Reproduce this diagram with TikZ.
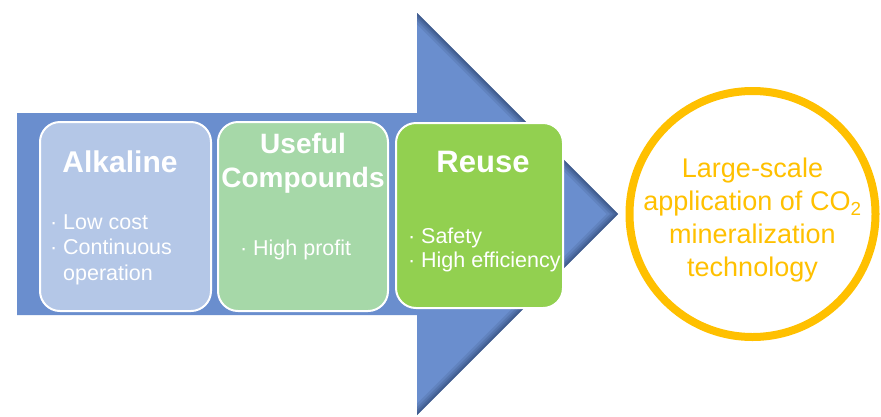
\documentclass[tikz,border=0pt]{standalone}
\usepackage{fontspec}
\setmainfont{Liberation Sans}
\usetikzlibrary{positioning}
\definecolor{arrowblue}{HTML}{6A8ECE}
\definecolor{arrowdark}{HTML}{2E4670}
\definecolor{boxblue}{HTML}{B4C7E7}
\definecolor{boxgreen}{HTML}{A6D8A8}
\definecolor{boxlime}{HTML}{92D050}
\definecolor{goalyellow}{HTML}{FFC000}
\newcommand{\itm}[1]{\makebox[13pt][l]{·}#1}
\begin{document}
\begin{tikzpicture}
[x=1pt,y=-1pt,
  stepbox/.style={shape=rectangle,rounded corners=20pt,draw=white,line width=2pt,inner sep=0pt},%
  titletext/.style={anchor=base,inner sep=0pt,text=white,font=\fontsize{30}{34}\selectfont\bfseries},%
  itemtext/.style={anchor=base west,inner sep=0pt,text=white,font=\fontsize{21.5}{25}\selectfont},%
  goaldecorate/.style={shape=circle,draw=goalyellow,line width=8pt,minimum size=246pt,inner sep=0pt}]
\useasboundingbox (0,0) rectangle (881,416);
% big arrow
\path[fill=arrowblue] (17,113) -- (417,113) -- (417,13) -- (618,214) -- (417,415) -- (417,315) -- (17,315) -- cycle;
\begin{scope}
\clip (417,13) -- (618,214) -- (417,415) -- cycle;
\foreach \w/\o in {16/0.15,11/0.2,7/0.25,3/0.35}
  \draw[arrowdark,line width=\w pt,opacity=\o] (417,13) -- (618,214) -- (417,415);
\end{scope}
% boxes
\node (alk) at (125.5,216.5) [stepbox,fill=boxblue,minimum width=171pt,minimum height=189pt] {};
\node (use) at (303,216.5) [stepbox,fill=boxgreen,minimum width=170pt,minimum height=189pt] {};
\node (reu) at (479.5,215.5) [stepbox,fill=boxlime,minimum width=167pt,minimum height=185pt] {};
% box texts
\node (alkT) at (120,172) [titletext] {Alkaline};
\node (alk1) at (50,229) [itemtext] {\itm{Low cost}};
\node (alk2) at (50,254.5) [itemtext] {\itm{Continuous}};
\node (alk3) at (63,280) [itemtext] {operation};
\node (useT) at (303,153) [titletext,font=\fontsize{28}{34}\selectfont\bfseries] {Useful};
\node (useU) at (303,187) [titletext,font=\fontsize{28}{34}\selectfont\bfseries] {Compounds};
\node (use1) at (240,255) [itemtext] {\itm{High profit}};
\node (reuT) at (483,172) [titletext,font=\fontsize{31}{34}\selectfont\bfseries] {Reuse};
\node (reu1) at (408,243) [itemtext] {\itm{Safety}};
\node (reu2) at (408,267) [itemtext] {\itm{High efficiency}};
% goal
\node (goal) at (752.5,214) [goaldecorate] {};
\node (goalT) at ([yshift=-6pt]goal.center) [align=center,text=goalyellow,font=\fontsize{27}{33}\selectfont]
  {Large-scale\\application of CO\textsubscript{2}\\mineralization\\technology};
\end{tikzpicture}
\end{document}
